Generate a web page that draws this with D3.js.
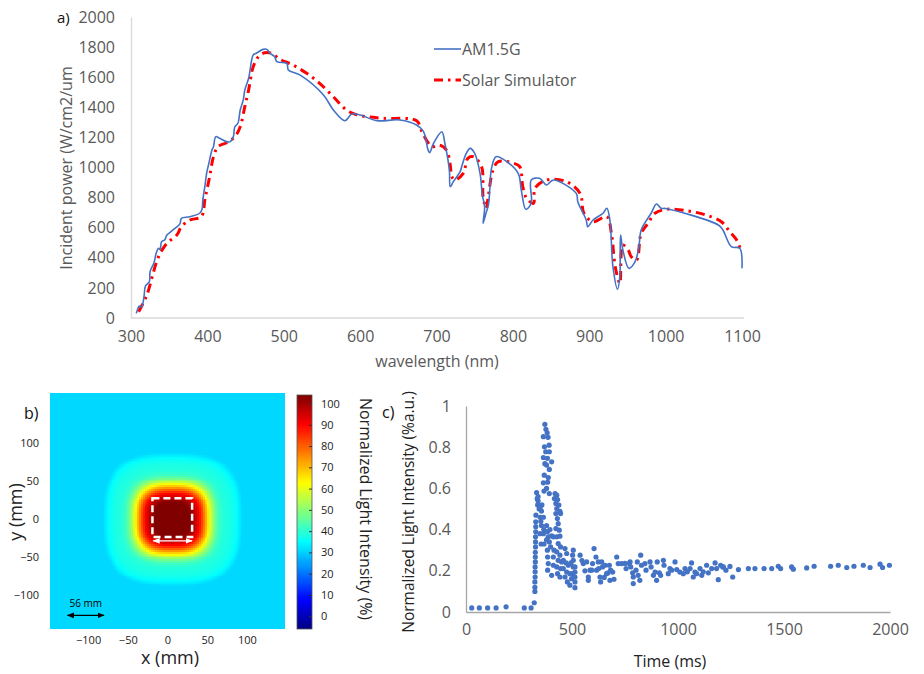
<!doctype html>
<html lang="en">
<head>
<meta charset="UTF-8">
<title>Solar simulator characterisation</title>
<script src="https://d3js.org/d3.v7.min.js"></script>
<style>
  body { margin: 0; background: #fff; }
  text { font-family: "Open Sans", "Liberation Sans", sans-serif; }
</style>
</head>
<body>
<div id="chart"></div>
<script>
// ---- panel a: spectra ----
var amWavelength = [307,311,314,317,319,324,325,330,333,336,338,340,344,347,355,364,366,377,390,393,394,397,399,402,406,408,411,416,425,430,434,436,440,443,447,449,454,458,460,464,473,478,482,488,491,504,506,521,552,565,580,589,600,622,652,674,683,689,691,696,707,711,715,717,718,722,731,733,739,744,750,757,760,763,761,765,768,770,772,778,792,807,811,817,824,824,835,844,853,883,885,896,898,905,918,923,927,931,937,940,941,944,952,960,965,968,981,988,994,1000,1069,1075,1086,1097,1100];
var amPower = [31,80,75,142,213,241,308,365,431,463,455,507,518,551,585,625,662,673,696,722,784,884,961,1028,1116,1138,1205,1194,1172,1172,1205,1271,1294,1382,1449,1515,1593,1714,1748,1759,1785,1785,1759,1737,1703,1692,1648,1615,1482,1382,1311,1355,1349,1311,1316,1282,1238,1116,1099,1160,1238,1160,1050,972,872,906,972,1006,1094,1127,1094,961,817,740,629,700,751,872,994,1072,1039,961,850,722,762,917,928,884,917,828,773,651,607,651,696,729,651,341,191,274,551,452,330,374,474,585,696,757,729,728,618,585,474,463,330];

var simWavelength = [310,318,323,329,336,347,360,366,377,392,397,403,408,414,425,436,443,449,454,460,467,475,484,495,512,530,547,565,582,593,608,630,674,680,688,694,704,713,718,720,724,735,741,748,759,761,765,768,774,781,801,809,813,818,827,829,844,870,888,893,905,923,929,934,940,944,951,955,962,968,977,986,1001,1027,1053,1073,1084,1093,1099];
var simPower = [42,120,186,297,407,496,551,607,651,673,795,939,1072,1138,1165,1205,1271,1404,1515,1670,1737,1763,1759,1719,1681,1626,1559,1470,1382,1355,1338,1327,1311,1249,1172,1138,1149,1116,1017,939,917,961,1061,1072,1006,806,729,817,983,1039,1028,1006,872,795,762,862,917,906,828,696,640,673,563,341,230,485,452,407,385,563,629,696,722,713,684,640,573,518,441];

var wlTicks = [300,400,500,600,700,800,900,1000,1100];
var powerTicks = [0,200,400,600,800,1000,1200,1400,1600,1800,2000];
var seriesNames = ["AM1.5G", "Solar Simulator"];

// ---- panel b: irradiance map (radial profile of the spot, mm -> %) ----
var spotDistance = [0, 22, 28, 34, 38, 43, 47, 52, 58, 64, 72, 80, 88, 250];
var spotLevel = [104, 104, 98, 90, 82, 70, 60, 50, 42, 39, 38, 36, 31, 31];
var mapTicks = [-100, -50, 0, 50, 100];
var barTicks = [0,10,20,30,40,50,60,70,80,90,100];

// ---- panel c: flash pulse ----
var pulseTime = [27,63,102,142,189,275,307,322,
  325,325,325,326,326,326,327,327,327,328,328,328,329,329,329,330,
  333,336,338,345,340,
  340,350,358,356,350,353,365,356,367,349,365,380,384,388,396,404,412,393,380,399,384,385,388,385,404,412,412,415,354,368,
  372,377,383,365,387,370,392,376,393,365,384,404,380,393,369,388,365,380,368,393,372,385,
  420,428,417,432,424,438,428,443,424,446,431,435,424,440,428,443,435,446,428,443,435,451,428,446,432,443,
  467,475,459,472,483,459,475,490,467,478,490,498,503,506,506,503,506,514,514,514,514,514,495,
  538,547,553,561,569,577,577,585,593,597,604,613,616,624,626,632,635,640,644,652,656,663,670,676,679,682,692,698,711,718,734,750,755,770,774,777,786,789,789,802,808,812,820,824,828,844,849,868,873,884,892,899,902,912,918,931,934,954,962,970,986,994,1009,1025,1033,1044,1057,1064,1072,1080,1088,1104,1112,1119,1135,1143,1159,1175,1182,1190,1201,1211,1214,1226,1245,1258,1285,
  1332,1363,1406,1442,1473,1484,1536,1544,1607,1642,1720,1756,1796,1830,1874,1906,1953,1965,1997];
var pulseIntensity = [0.02,0.02,0.02,0.02,0.025,0.02,0.02,0.045,
  0.10,0.12,0.146,0.17,0.195,0.219,0.243,0.267,0.29,0.316,0.34,0.365,0.389,0.414,0.438,0.47,
  0.58,0.55,0.52,0.50,0.56,
  0.54,0.51,0.52,0.49,0.46,0.44,0.46,0.42,0.40,0.38,0.38,0.42,0.39,0.365,0.40,0.37,0.365,0.34,0.35,0.316,0.30,0.267,0.235,0.203,0.178,0.227,0.267,0.30,0.33,0.33,
  0.911,0.887,0.87,0.851,0.848,0.802,0.81,0.778,0.778,0.75,0.746,0.729,0.713,0.692,0.664,0.653,0.627,0.60,0.587,0.575,0.72,0.63,
  0.575,0.567,0.551,0.546,0.527,0.519,0.502,0.489,0.478,0.478,0.454,0.429,0.405,0.397,0.365,0.368,0.332,0.316,0.292,0.276,0.251,0.243,0.219,0.211,0.186,0.17,
  0.308,0.284,0.251,0.238,0.227,0.211,0.194,0.186,0.17,0.146,0.13,0.162,0.186,0.219,0.251,0.276,0.30,0.219,0.194,0.17,0.146,0.118,0.238,
  0.276,0.25,0.235,0.20,0.243,0.154,0.17,0.203,0.203,0.235,0.308,0.267,0.203,0.243,0.211,0.17,0.146,0.243,0.219,0.168,0.227,0.186,0.19,0.227,0.154,0.203,0.194,0.159,0.267,0.235,0.235,0.236,0.211,0.236,0.243,0.219,0.19,0.17,0.138,0.203,0.243,0.178,0.154,0.276,0.227,0.235,0.203,0.243,0.219,0.178,0.194,0.154,0.243,0.19,0.178,0.251,0.227,0.186,0.211,0.203,0.243,0.206,0.194,0.186,0.211,0.195,0.211,0.238,0.17,0.194,0.186,0.211,0.178,0.195,0.227,0.19,0.211,0.238,0.211,0.157,0.227,0.219,0.219,0.203,0.221,0.17,0.206,
  0.211,0.211,0.211,0.211,0.222,0.211,0.219,0.208,0.214,0.222,0.222,0.227,0.216,0.222,0.227,0.216,0.232,0.216,0.227];
var timeTicks = [0,500,1000,1500,2000];
var intensityTicks = [0,0.2,0.4,0.6,0.8,1];

var svg = d3.select("#chart").append("svg")
    .attr("width", 924)
    .attr("height", 674);

svg.append("rect").attr("width", 924).attr("height", 674).attr("fill", "#fff");

var grey = "#595959";

function styleAxis(g, lineColour, size) {
    g.select(".domain").attr("stroke", lineColour).attr("stroke-width", 1.3);
    g.selectAll("text").attr("fill", grey).attr("font-size", size)
        .attr("font-family", "'Open Sans', sans-serif");
}

// ================= panel a =================
var xA = d3.scaleLinear().domain([300, 1100]).range([131, 742]);
var yA = d3.scaleLinear().domain([0, 2000]).range([318, 17]);

var ayAxis = svg.append("g").attr("transform", "translate(131,0)")
    .call(d3.axisLeft(yA).tickValues(powerTicks).tickSize(0).tickPadding(16).tickFormat(d3.format("d")));
styleAxis(ayAxis, "#d9d9d9", 16);
var axAxis = svg.append("g").attr("transform", "translate(0,318)")
    .call(d3.axisBottom(xA).tickValues(wlTicks).tickSize(0).tickPadding(13).tickFormat(d3.format("d")));
styleAxis(axAxis, "#d9d9d9", 16);
axAxis.select(".domain").attr("d", "M131,0H744");

var lineA = d3.line().x(function(d) { return xA(d[0]); }).y(function(d) { return yA(d[1]); })
    .curve(d3.curveCatmullRom.alpha(0.5));

svg.append("path")
    .datum(d3.zip(simWavelength, simPower))
    .attr("d", lineA)
    .attr("fill", "none")
    .attr("stroke", "#ff0000")
    .attr("stroke-width", 3)
    .attr("stroke-dasharray", "9,5,2.5,5");

svg.append("path")
    .datum(d3.zip(amWavelength, amPower))
    .attr("d", lineA)
    .attr("fill", "none")
    .attr("stroke", "#4472c4")
    .attr("stroke-width", 1.6)
    .attr("stroke-linejoin", "round");

// legend
var legend = svg.append("g");
legend.append("line").attr("x1", 434).attr("x2", 461).attr("y1", 49).attr("y2", 49)
    .attr("stroke", "#4472c4").attr("stroke-width", 1.6);
legend.append("line").attr("x1", 434).attr("x2", 461).attr("y1", 80).attr("y2", 80)
    .attr("stroke", "#ff0000").attr("stroke-width", 3).attr("stroke-dasharray", "9,5,2.5,5");
legend.selectAll("text.leg").data(seriesNames).enter().append("text")
    .attr("class", "leg")
    .attr("x", 462)
    .attr("y", function(d, i) { return 55 + i * 31; })
    .attr("font-size", 16)
    .attr("fill", grey)
    .text(function(d) { return d; });

svg.append("text")
    .attr("transform", "translate(72,168) rotate(-90)")
    .attr("text-anchor", "middle")
    .attr("font-size", 16)
    .attr("fill", grey)
    .text("Incident power (W/cm2/um");
svg.append("text")
    .attr("x", 437).attr("y", 367)
    .attr("text-anchor", "middle")
    .attr("font-size", 16)
    .attr("fill", grey)
    .text("wavelength (nm)");
svg.append("text").attr("x", 57).attr("y", 23).attr("font-size", 15).attr("fill", "#111").text("a)");

// ================= panel b =================
var xB = d3.scaleLinear().domain([-148, 148]).range([50, 285]);
var yB = d3.scaleLinear().domain([-145, 163]).range([629, 395]);
var spotCentre = [6, 0];

function jet(t) {
    t = Math.max(0, Math.min(1, t));
    function c(v) { return Math.round(255 * Math.max(0, Math.min(1, v))); }
    var r = 1.5 - Math.abs(4 * t - 3);
    var g = 1.5 - Math.abs(4 * t - 2);
    var b = 1.5 - Math.abs(4 * t - 1);
    return "rgb(" + c(r) + "," + c(g) + "," + c(b) + ")";
}
var barScale = d3.scaleLinear().domain([-6, 104]).range([0, 1]);
var colour = function(v) { return jet(barScale(v)); };
var profile = d3.scaleLinear().domain(spotDistance).range(spotLevel).clamp(true);

var step = 2.5;
var cellsX = d3.range(-148, 148, step);
var cellsY = d3.range(-145, 163, step);
var cells = [];
cellsY.forEach(function(cy) {
    cellsX.forEach(function(cx) {
        var dx = Math.abs(cx + step / 2 - spotCentre[0]);
        var dy = Math.abs(cy + step / 2 - spotCentre[1]);
        var d = Math.pow(Math.pow(dx, 3) + Math.pow(dy, 3), 1 / 3);
        cells.push({ x: cx, y: cy, v: profile(d) });
    });
});

var map = svg.append("g");
map.selectAll("rect").data(cells).enter().append("rect")
    .attr("x", function(d) { return xB(d.x); })
    .attr("y", function(d) { return yB(d.y + step); })
    .attr("width", xB(step) - xB(0) + 0.6)
    .attr("height", yB(0) - yB(step) + 0.6)
    .attr("fill", function(d) { return colour(d.v); })
    .attr("shape-rendering", "crispEdges");
// clip overflow
svg.append("rect").attr("x", 285).attr("y", 390).attr("width", 10).attr("height", 245).attr("fill", "#fff");
svg.append("rect").attr("x", 45).attr("y", 629).attr("width", 245).attr("height", 6).attr("fill", "#fff");

// dashed box and arrows
var boxX = [-19, 31], boxY = [-24, 27];
svg.append("rect")
    .attr("x", xB(boxX[0])).attr("y", yB(boxY[1]))
    .attr("width", xB(boxX[1]) - xB(boxX[0]))
    .attr("height", yB(boxY[0]) - yB(boxY[1]))
    .attr("fill", "none").attr("stroke", "#fff").attr("stroke-width", 2.5)
    .attr("stroke-dasharray", "7,4");

var defs = svg.append("defs");
["white", "black"].forEach(function(c) {
    defs.append("marker").attr("id", "arr-" + c)
        .attr("viewBox", "0 0 10 10").attr("refX", 9).attr("refY", 5)
        .attr("markerWidth", 6).attr("markerHeight", 6).attr("orient", "auto-start-reverse")
        .append("path").attr("d", "M0,1L10,5L0,9Z").attr("fill", c);
});
svg.append("line")
    .attr("x1", xB(-18)).attr("x2", xB(31)).attr("y1", yB(-29)).attr("y2", yB(-29))
    .attr("stroke", "#fff").attr("stroke-width", 1.2)
    .attr("marker-start", "url(#arr-white)").attr("marker-end", "url(#arr-white)");
svg.append("line")
    .attr("x1", xB(-126)).attr("x2", xB(-80)).attr("y1", yB(-127)).attr("y2", yB(-127))
    .attr("stroke", "#000").attr("stroke-width", 1.2)
    .attr("marker-start", "url(#arr-black)").attr("marker-end", "url(#arr-black)");
svg.append("text")
    .attr("x", xB(-103)).attr("y", yB(-116))
    .attr("text-anchor", "middle").attr("font-size", 10)
    .attr("font-family", "'Liberation Sans', Arial, sans-serif")
    .text("56 mm");

var bx = svg.append("g").attr("transform", "translate(0,629)")
    .call(d3.axisBottom(xB).tickValues(mapTicks).tickSize(0).tickPadding(7));
bx.select(".domain").remove();
bx.selectAll("text").attr("font-size", 11).attr("fill", "#222")
    .attr("font-family", "'Liberation Sans', Arial, sans-serif");
var by = svg.append("g").attr("transform", "translate(50,0)")
    .call(d3.axisLeft(yB).tickValues(mapTicks).tickSize(0).tickPadding(11));
by.select(".domain").remove();
by.selectAll("text").attr("font-size", 11).attr("fill", "#222")
    .attr("font-family", "'Liberation Sans', Arial, sans-serif");

svg.append("text").attr("x", 170).attr("y", 664).attr("text-anchor", "middle")
    .attr("font-size", 18).attr("fill", "#222").text("x (mm)");
svg.append("text").attr("transform", "translate(22,512) rotate(-90)").attr("text-anchor", "middle")
    .attr("font-size", 18).attr("fill", "#222").text("y (mm)");
svg.append("text").attr("x", 24).attr("y", 419).attr("font-size", 16).attr("fill", "#111").text("b)");

// colour bar
var yBar = d3.scaleLinear().domain([-6, 104]).range([629, 395]);
var barSteps = d3.range(-6, 104, 0.5);
svg.append("g").selectAll("rect").data(barSteps).enter().append("rect")
    .attr("x", 297).attr("width", 15)
    .attr("y", function(d) { return yBar(d + 0.5); })
    .attr("height", yBar(0) - yBar(0.5) + 0.4)
    .attr("fill", function(d) { return colour(d + 0.25); })
    .attr("shape-rendering", "crispEdges");
svg.append("rect").attr("x", 297).attr("y", 395).attr("width", 15).attr("height", 234)
    .attr("fill", "none").attr("stroke", "#555").attr("stroke-width", 0.8);
var barAxis = svg.append("g").attr("transform", "translate(312,0)")
    .call(d3.axisRight(yBar).tickValues(barTicks).tickSize(-3).tickPadding(9));
barAxis.select(".domain").remove();
barAxis.selectAll("line").attr("stroke", "#333");
barAxis.selectAll("text").attr("font-size", 11).attr("fill", "#222")
    .attr("font-family", "'Liberation Sans', Arial, sans-serif");
svg.append("text").attr("transform", "translate(360,509) rotate(90)").attr("text-anchor", "middle")
    .attr("font-size", 16).attr("fill", "#222").text("Normalized Light Intensity (%)");

// ================= panel c =================
var xC = d3.scaleLinear().domain([0, 2000]).range([466, 890]);
var yC = d3.scaleLinear().domain([0, 1]).range([612, 406]);

var cy = svg.append("g").attr("transform", "translate(466,0)")
    .call(d3.axisLeft(yC).tickValues(intensityTicks).tickSize(0).tickPadding(15)
        .tickFormat(function(d) { return d === 0 || d === 1 ? d : d3.format(".1f")(d); }));
styleAxis(cy, "#a6a6a6", 16);
var cx = svg.append("g").attr("transform", "translate(0,612)")
    .call(d3.axisBottom(xC).tickValues(timeTicks).tickSize(0).tickPadding(12).tickFormat(d3.format("d")));
styleAxis(cx, "#a6a6a6", 16);

svg.append("g").selectAll("circle").data(d3.zip(pulseTime, pulseIntensity)).enter().append("circle")
    .attr("cx", function(d) { return xC(d[0]); })
    .attr("cy", function(d) { return yC(d[1]); })
    .attr("r", 2.6)
    .attr("fill", "#4472c4");

svg.append("text").attr("transform", "translate(414,512) rotate(-90)").attr("text-anchor", "middle")
    .attr("font-size", 15.5).attr("fill", "#222").text("Normalized Light Intensity (%a.u.)");
svg.append("text").attr("x", 670).attr("y", 667).attr("text-anchor", "middle")
    .attr("font-size", 16).attr("fill", "#222").text("Time (ms)");
svg.append("text").attr("x", 382).attr("y", 418).attr("font-size", 16).attr("fill", "#111").text("c)");
</script>
</body>
</html>
